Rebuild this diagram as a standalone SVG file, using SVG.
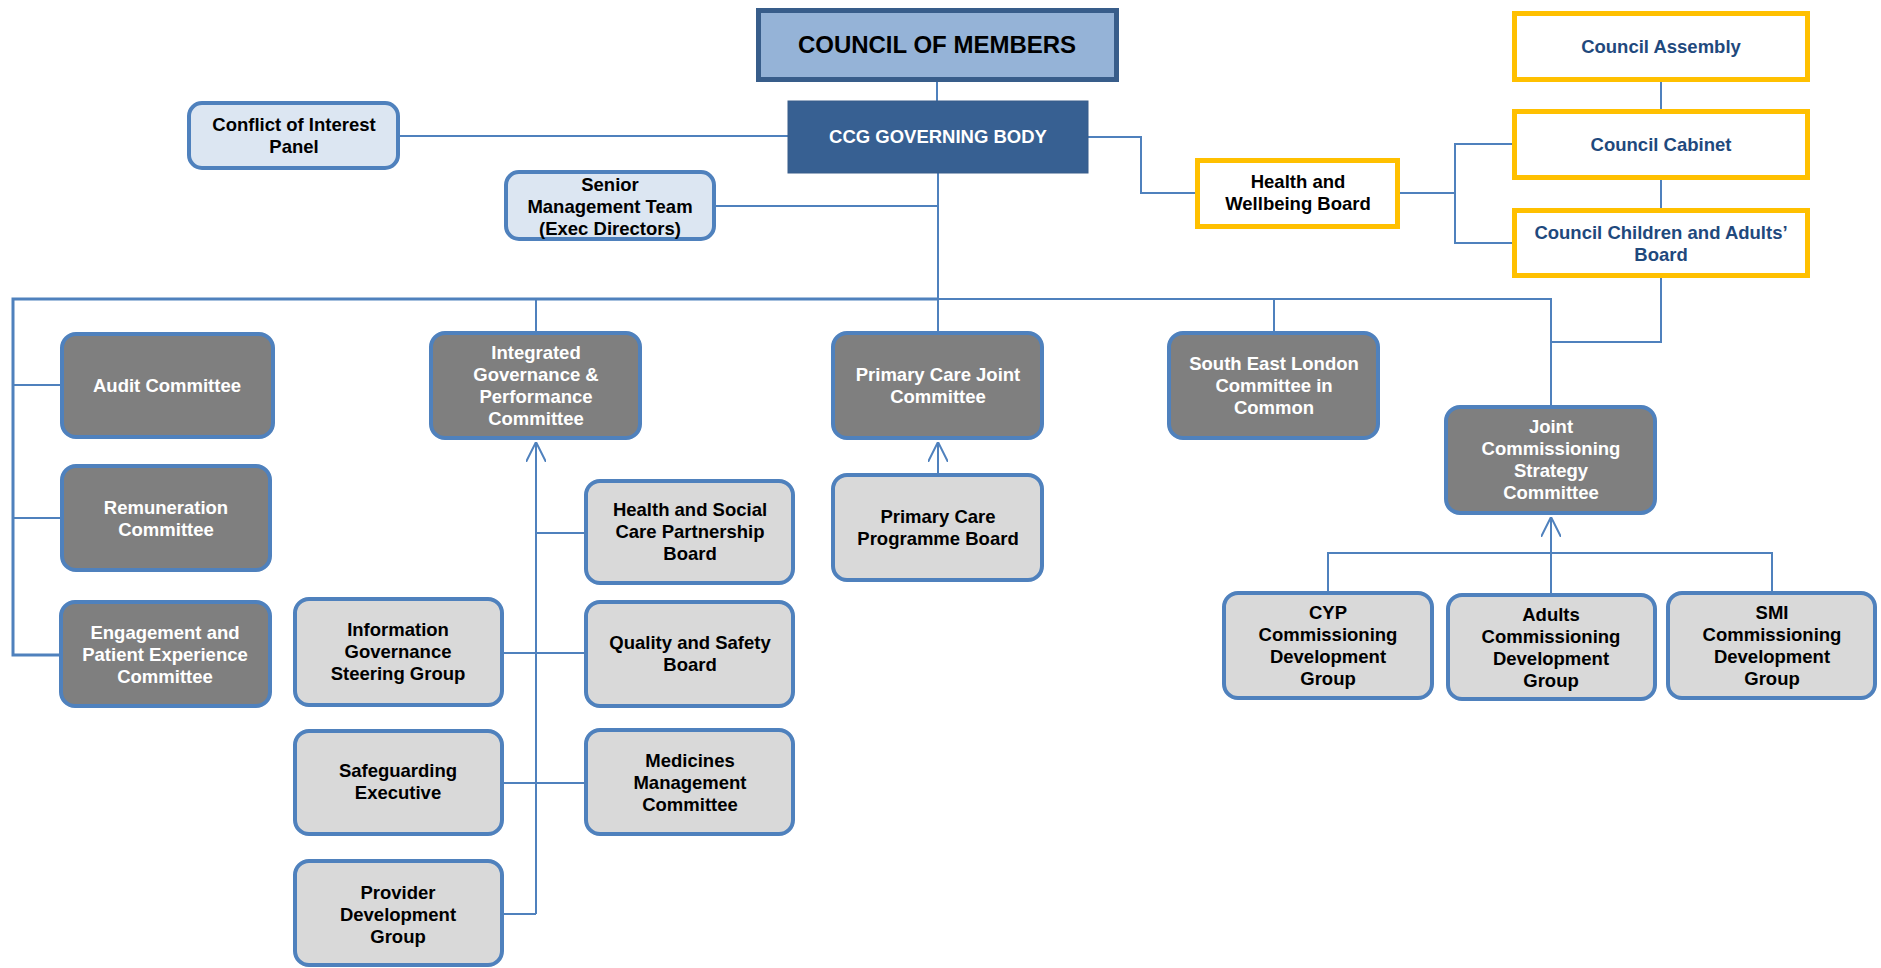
<svg xmlns="http://www.w3.org/2000/svg" width="1881" height="968" viewBox="0 0 1881 968">
<style>
.dk{fill:#7f7f7f;stroke:#4f81bd;stroke-width:4}
.lt{fill:#d9d9d9;stroke:#4f81bd;stroke-width:4}
.lb{fill:#dce6f2;stroke:#4f81bd;stroke-width:4}
.yl{fill:#ffffff;stroke:#ffc000;stroke-width:5}
text{font-family:"Liberation Sans",Arial,sans-serif;font-weight:bold;font-size:18.5px;text-anchor:middle}
.w{fill:#ffffff}
.k{fill:#000000}
.n{fill:#1f497d}
.c{fill:none;stroke:#4f81bd;stroke-width:2}
.cb{fill:none;stroke:#4f81bd;stroke-width:3}
</style>
<defs>
<marker id="arr" viewBox="0 0 20 20" refX="20" refY="10" markerWidth="20" markerHeight="20" markerUnits="userSpaceOnUse" orient="auto">
<path d="M0,0 L20,10 L0,20" fill="none" stroke="#4f81bd" stroke-width="2"/>
</marker>
</defs>
<rect width="1881" height="968" fill="#ffffff"/>

<g id="connectors">
<path class="c" d="M937 82 V101"/>
<path class="c" d="M400 136 H788"/>
<path class="c" d="M938 173 V333"/>
<path class="c" d="M716 206 H938"/>
<path class="cb" d="M938 299 H13 V655 H61"/>
<path class="c" d="M938 299 H1551 V407"/>
<path class="c" d="M13 385 H62"/>
<path class="c" d="M13 518 H62"/>
<path class="c" d="M536 299 V333"/>
<path class="c" d="M1274 299 V333"/>
<path class="c" d="M1661 278 V342 H1551"/>
<path class="c" d="M536 914 V442" marker-end="url(#arr)"/>
<path class="c" d="M536 533 H586"/>
<path class="c" d="M504 653 H586"/>
<path class="c" d="M504 783 H586"/>
<path class="c" d="M504 914 H536"/>
<path class="c" d="M938 475 V442" marker-end="url(#arr)"/>
<path class="c" d="M1088 137 H1141 V193 H1197"/>
<path class="c" d="M1400 193 H1455"/>
<path class="c" d="M1514 144 H1455 V243 H1514"/>
<path class="c" d="M1661 82 V111"/>
<path class="c" d="M1661 180 V210"/>
<path class="c" d="M1328 593 V553 H1772 V593"/>
<path class="c" d="M1551 595 V517" marker-end="url(#arr)"/>
</g>

<g id="council-of-members">
<rect x="758.5" y="10.5" width="358" height="69" fill="#95b3d7" stroke="#385d8a" stroke-width="5"/>
<text x="937" y="53" class="k" style="font-size:24px">COUNCIL OF MEMBERS</text>
</g>
<g id="ccg-governing-body">
<rect x="788" y="101" width="300" height="72" fill="#376092" stroke="#385d8a" stroke-width="1"/>
<text x="938" y="143" class="w">CCG GOVERNING BODY</text>
</g>
<g id="conflict-of-interest">
<rect x="189" y="103" width="209" height="65" rx="13" class="lb"/>
<text x="294" y="131" class="k">Conflict of Interest</text>
<text x="294" y="153" class="k">Panel</text>
</g>
<g id="senior-management">
<rect x="506" y="172" width="208" height="67" rx="13" class="lb"/>
<text x="610" y="191" class="k">Senior</text>
<text x="610" y="213" class="k">Management Team</text>
<text x="610" y="235" class="k">(Exec Directors)</text>
</g>
<g id="audit">
<rect x="62" y="334" width="211" height="103" rx="14" class="dk"/>
<text x="167" y="392" class="w">Audit Committee</text>
</g>
<g id="remuneration">
<rect x="62" y="466" width="208" height="104" rx="14" class="dk"/>
<text x="166" y="514" class="w">Remuneration</text>
<text x="166" y="536" class="w">Committee</text>
</g>
<g id="engagement">
<rect x="61" y="602" width="209" height="104" rx="14" class="dk"/>
<text x="165" y="639" class="w">Engagement and</text>
<text x="165" y="661" class="w">Patient Experience</text>
<text x="165" y="683" class="w">Committee</text>
</g>
<g id="integrated-governance">
<rect x="431" y="333" width="209" height="105" rx="14" class="dk"/>
<text x="536" y="359" class="w">Integrated</text>
<text x="536" y="381" class="w">Governance &amp;</text>
<text x="536" y="403" class="w">Performance</text>
<text x="536" y="425" class="w">Committee</text>
</g>
<g id="primary-care-joint">
<rect x="833" y="333" width="209" height="105" rx="14" class="dk"/>
<text x="938" y="381" class="w">Primary Care Joint</text>
<text x="938" y="403" class="w">Committee</text>
</g>
<g id="south-east-london">
<rect x="1169" y="333" width="209" height="105" rx="14" class="dk"/>
<text x="1274" y="370" class="w">South East London</text>
<text x="1274" y="392" class="w">Committee in</text>
<text x="1274" y="414" class="w">Common</text>
</g>
<g id="joint-commissioning">
<rect x="1446" y="407" width="209" height="106" rx="14" class="dk"/>
<text x="1551" y="433" class="w">Joint</text>
<text x="1551" y="455" class="w">Commissioning</text>
<text x="1551" y="477" class="w">Strategy</text>
<text x="1551" y="499" class="w">Committee</text>
</g>
<g id="health-social-care">
<rect x="586" y="481" width="207" height="102" rx="14" class="lt"/>
<text x="690" y="516" class="k">Health and Social</text>
<text x="690" y="538" class="k">Care Partnership</text>
<text x="690" y="560" class="k">Board</text>
</g>
<g id="primary-care-programme">
<rect x="833" y="475" width="209" height="105" rx="14" class="lt"/>
<text x="938" y="523" class="k">Primary Care</text>
<text x="938" y="545" class="k">Programme Board</text>
</g>
<g id="information-governance">
<rect x="295" y="599" width="207" height="106" rx="14" class="lt"/>
<text x="398" y="636" class="k">Information</text>
<text x="398" y="658" class="k">Governance</text>
<text x="398" y="680" class="k">Steering Group</text>
</g>
<g id="quality-safety">
<rect x="586" y="602" width="207" height="104" rx="14" class="lt"/>
<text x="690" y="649" class="k">Quality and Safety</text>
<text x="690" y="671" class="k">Board</text>
</g>
<g id="safeguarding">
<rect x="295" y="731" width="207" height="103" rx="14" class="lt"/>
<text x="398" y="777" class="k">Safeguarding</text>
<text x="398" y="799" class="k">Executive</text>
</g>
<g id="medicines-management">
<rect x="586" y="730" width="207" height="104" rx="14" class="lt"/>
<text x="690" y="767" class="k">Medicines</text>
<text x="690" y="789" class="k">Management</text>
<text x="690" y="811" class="k">Committee</text>
</g>
<g id="provider-development">
<rect x="295" y="861" width="207" height="104" rx="14" class="lt"/>
<text x="398" y="899" class="k">Provider</text>
<text x="398" y="921" class="k">Development</text>
<text x="398" y="943" class="k">Group</text>
</g>
<g id="cyp-commissioning">
<rect x="1224" y="593" width="208" height="105" rx="14" class="lt"/>
<text x="1328" y="619" class="k">CYP</text>
<text x="1328" y="641" class="k">Commissioning</text>
<text x="1328" y="663" class="k">Development</text>
<text x="1328" y="685" class="k">Group</text>
</g>
<g id="adults-commissioning">
<rect x="1448" y="595" width="207" height="104" rx="14" class="lt"/>
<text x="1551" y="621" class="k">Adults</text>
<text x="1551" y="643" class="k">Commissioning</text>
<text x="1551" y="665" class="k">Development</text>
<text x="1551" y="687" class="k">Group</text>
</g>
<g id="smi-commissioning">
<rect x="1668" y="593" width="207" height="105" rx="14" class="lt"/>
<text x="1772" y="619" class="k">SMI</text>
<text x="1772" y="641" class="k">Commissioning</text>
<text x="1772" y="663" class="k">Development</text>
<text x="1772" y="685" class="k">Group</text>
</g>
<g id="health-wellbeing-board">
<rect x="1197.5" y="160.5" width="200" height="66" class="yl"/>
<text x="1298" y="188" class="k">Health and</text>
<text x="1298" y="210" class="k">Wellbeing Board</text>
</g>
<g id="council-assembly">
<rect x="1514.5" y="13.5" width="293" height="66" class="yl"/>
<text x="1661" y="53" class="n">Council Assembly</text>
</g>
<g id="council-cabinet">
<rect x="1514.5" y="111.5" width="293" height="66" class="yl"/>
<text x="1661" y="151" class="n">Council Cabinet</text>
</g>
<g id="council-children-adults">
<rect x="1514.5" y="210.5" width="293" height="65" class="yl"/>
<text x="1661" y="239" class="n">Council Children and Adults’</text>
<text x="1661" y="261" class="n">Board</text>
</g>
</svg>
